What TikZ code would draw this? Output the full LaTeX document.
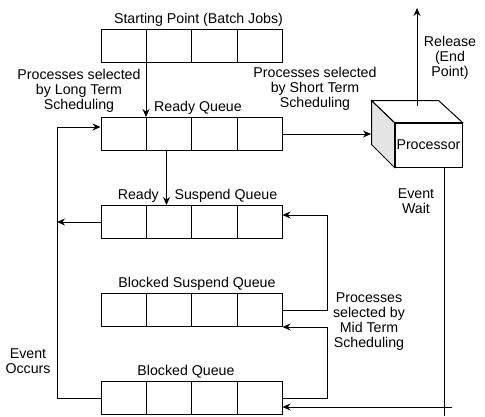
\documentclass[tikz,border=0pt]{standalone}
\usepackage{fontspec}
\setmainfont{Liberation Sans}
\usetikzlibrary{arrows.meta,positioning,calc}

\begin{document}
\begin{tikzpicture}[
  x=1pt,y=-1pt,
  queue/.style={draw,rectangle,line width=1pt,minimum width=181pt,minimum height=33pt,inner sep=0pt},
  lbl/.style={font=\fontsize{14.2}{15}\selectfont,align=center,inner sep=0pt},
  cpubox/.style={draw,rectangle,fill=white,line width=1pt,minimum width=67pt,minimum height=44pt,
    inner sep=0pt,font=\fontsize{14.2}{15}\selectfont},
  arrow/.style={-{Stealth[length=8pt,width=7pt]},line width=1pt},
  link/.style={line width=1pt},
]
  \useasboundingbox (0,0) rectangle (485,416);

  % queues
  \node[queue] (start) at (191.5,46) {};
  \node[queue] (ready) at (191.5,134) {};
  \node[queue] (rsusp) at (191.5,222) {};
  \node[queue] (bsusp) at (191.5,310) {};
  \node[queue] (blocked) at (191.5,398) {};
  \foreach \q in {start,ready,rsusp,bsusp,blocked}
    \foreach \i in {1,2,3}
      \draw[link] ($(\q.north west)!\i/4!(\q.north east)$) -- ($(\q.south west)!\i/4!(\q.south east)$);

  \node[lbl,anchor=base] (startlbl) at ($(start.north)+(7,-6)$) {Starting Point (Batch Jobs)};
  \node[lbl,anchor=base] (readylbl) at ($(ready.north)+(6.5,-6)$) {Ready Queue};
  \node[lbl,anchor=base] (rsusplbl) at ($(rsusp.north)+(6,-6)$) {Ready~~~~Suspend Queue};
  \node[lbl,anchor=base] (bsusplbl) at ($(bsusp.north)+(5.5,-6)$) {Blocked Suspend Queue};
  \node[lbl,anchor=base] (blockedlbl) at ($(blocked.north)+(-5.5,-6)$) {Blocked Queue};

  % processor
  \node[cpubox] (cpu) at (428.5,145) {Processor};
  \draw[link,fill=gray!20] (cpu.north west) -- ++(-23,-22) -- ++(0,44) -- (cpu.south west) -- cycle;
  \draw[link,fill=white] (cpu.north west) -- ++(-23,-22) -- ++(67,0) -- (cpu.north east) -- cycle;

  % scheduling labels
  \node[lbl] (longlbl) at (79,91) {Processes selected\\by Long Term\\Scheduling};
  \node[lbl] (shortlbl) at (315,89) {Processes selected\\by Short Term\\Scheduling};
  \node[lbl] (midlbl) at (369,322) {Processes\\selected by\\Mid Term\\Scheduling};
  \node[lbl] (releaselbl) at (450,58) {Release\\(End\\Point)};
  \node[lbl] (waitlbl) at (416,201) {Event\\Wait};
  \node[lbl] (occurlbl) at (28,361) {Event\\Occurs};

  \coordinate (loopx) at (57,0);
  \coordinate (midx) at (327,0);
  \coordinate (cpuback) at (371,0);
  \coordinate (release) at (417,8);
  \coordinate (waitx) at (444,416);
  \coordinate (waitin) at (452,407);

  % connectors
  \draw[arrow] ($(start.south west)!.25!(start.south east)$) -- ($(ready.north west)!.25!(ready.north east)$);
  \draw[arrow] ($(ready.south west)+(66,0)$) -- ($(rsusp.north west)+(66,0)$);
  \draw[arrow] (ready.east) -- (ready.east -| cpuback);
  \draw[arrow] ($(cpu.north)+(-11.5,-17)$) -- (release);
  \draw[link] (cpu.south -| waitx) -- (waitx);
  \draw[arrow] (waitin) -- (waitin -| blocked.east);
  \draw[arrow] (blocked.west) -- (blocked.west -| loopx) |- ($(ready.west)+(0,-7)$);
  \draw[arrow] (rsusp.west) -- (rsusp.west -| loopx);
  \draw[arrow] (bsusp.east) -- (bsusp.east -| midx) |- ($(rsusp.east)+(0,-7)$);
  \draw[arrow] (blocked.east) -- (blocked.east -| midx) |- (bsusp.south east);
\end{tikzpicture}
\end{document}
